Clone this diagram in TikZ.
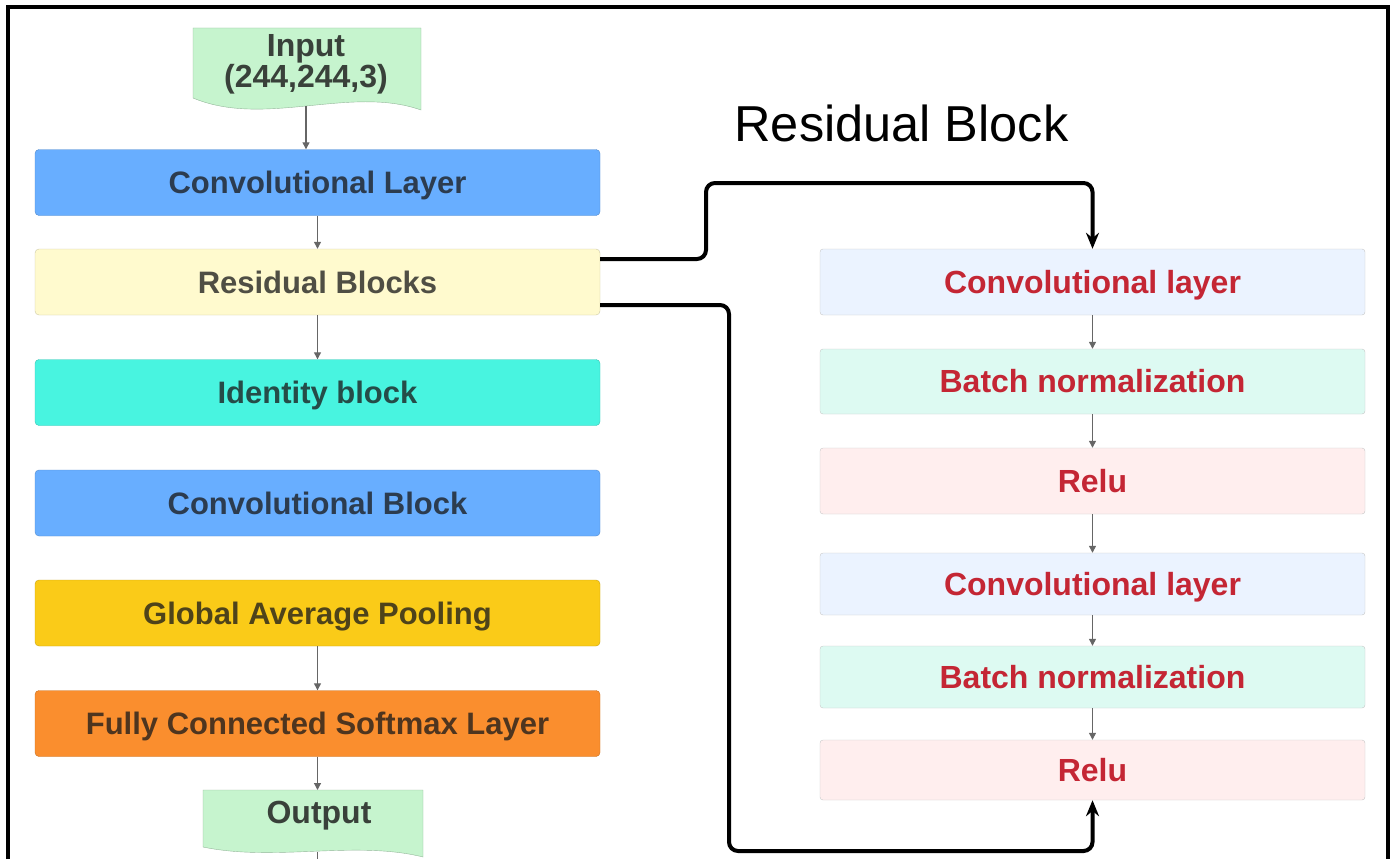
\documentclass[tikz,border=0pt]{standalone}
\usepackage{fontspec}
\setmainfont{Liberation Sans}
\usetikzlibrary{arrows.meta}
\definecolor{convblue}{RGB}{104,174,255}
\definecolor{resyellow}{RGB}{255,250,206}
\definecolor{identcyan}{RGB}{72,244,224}
\definecolor{poolgold}{RGB}{250,203,24}
\definecolor{fcorange}{RGB}{250,142,46}
\definecolor{iogreen}{RGB}{198,244,206}
\definecolor{palblue}{RGB}{235,243,255}
\definecolor{palmint}{RGB}{221,250,242}
\definecolor{palpink}{RGB}{255,238,238}
\definecolor{unitred}{RGB}{196,38,52}
\begin{document}
\begin{tikzpicture}[x=1pt, y=-1pt,
    layer/.style={draw=#1!80!black, fill=#1, text=#1!25!black!92, rounded corners=4pt,
        minimum width=565pt, minimum height=66pt, inner sep=0pt,
        text height=22pt, text depth=0pt, font=\fontsize{31}{31}\selectfont\bfseries},
    unit/.style={draw=black!22, fill=#1, text=unitred, rounded corners=3pt,
        minimum width=545pt, inner sep=0pt,
        text height=22pt, text depth=0pt, font=\fontsize{32}{32}\selectfont\bfseries},
    doc/.style={draw=iogreen!75!black, fill=iogreen},
    doctext/.style={text=iogreen!20!black!92, align=center, inner sep=0pt,
        font=\fontsize{32}{31}\selectfont\bfseries},
    flow/.style={draw=black!60, line width=1.2pt, -{Triangle[length=7pt,width=7pt]}},
    link/.style={line width=4pt, rounded corners=9pt, -{Stealth[length=16pt,width=13pt]}}]
    \useasboundingbox (0,0) rectangle (1394,859);
    \draw[line width=3.5pt] (8,859) -- (8,7) -- (1388,7) -- (1388,859);
    % main column
    \draw[doc] (193,28) -- (421,28) -- (421,110) .. controls (350,85) and (265,128) .. (193,98) -- cycle;
    \node[doctext] (input) at (306,64) {Input\\(244,244,3)};
    \coordinate (inbot) at (306,106);
    \node[layer=convblue] (conv) at (317.5,182.5) {Convolutional Layer};
    \node[layer=resyellow] (res) at (317.5,282) {Residual Blocks};
    \node[layer=identcyan] (ident) at (317.5,392.5) {Identity block};
    \node[layer=convblue] (convblk) at (317.5,503) {Convolutional Block};
    \node[layer=poolgold] (pool) at (317.5,613) {Global Average Pooling};
    \node[layer=fcorange] (fc) at (317.5,723.5) {Fully Connected Softmax Layer};
    \draw[doc] (203,790) -- (423,790) -- (423,857) .. controls (355,840) and (275,862) .. (203,847) -- cycle;
    \node[doctext] (output) at (319,816) {Output};
    \coordinate (outtop) at (317.5,790);
    \coordinate (outbot) at (317.5,852);
    \coordinate (edge) at (317.5,859);
    \draw[flow] (inbot) -- (inbot |- conv.north);
    \draw[flow] (conv) -- (res);
    \draw[flow] (res) -- (ident);
    \draw[flow] (pool) -- (fc);
    \draw[flow] (fc) -- (outtop);
    \draw[draw=black!60, line width=1.2pt] (outbot) -- (edge);
    % residual block
    \node[font=\fontsize{50.5}{50.5}\selectfont] (title) at (901.5,123) {Residual Block};
    \node[unit=palblue, minimum height=66pt] (rconv1) at (1092.5,282) {Convolutional layer};
    \node[unit=palmint, minimum height=65pt] (rbn1) at (1092.5,381.5) {Batch normalization};
    \node[unit=palpink, minimum height=66pt] (rrelu1) at (1092.5,481) {Relu};
    \node[unit=palblue, minimum height=62pt] (rconv2) at (1092.5,584) {Convolutional layer};
    \node[unit=palmint, minimum height=62pt] (rbn2) at (1092.5,677) {Batch normalization};
    \node[unit=palpink, minimum height=60pt] (rrelu2) at (1092.5,770) {Relu};
    \draw[flow] (rconv1) -- (rbn1);
    \draw[flow] (rbn1) -- (rrelu1);
    \draw[flow] (rrelu1) -- (rconv2);
    \draw[flow] (rconv2) -- (rbn2);
    \draw[flow] (rbn2) -- (rrelu2);
    % skip links
    \coordinate (k1) at (706,183);
    \coordinate (k2) at (729,851);
    \draw[link] ([yshift=23pt]res.east) -| (k1) -| (rconv1.north);
    \draw[link] ([yshift=-23pt]res.east) -| (k2) -| (rrelu2.south);
\end{tikzpicture}
\end{document}
